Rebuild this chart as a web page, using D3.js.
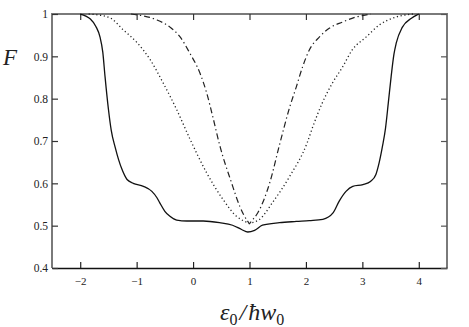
<!DOCTYPE html>
<html>
<head>
<meta charset="utf-8">
<script src="https://cdn.jsdelivr.net/npm/d3@7"></script>
<style>
  html, body { margin: 0; padding: 0; background: #fff; }
  svg { display: block; }
  svg text { font-family: 'Liberation Serif', 'Tinos', 'DejaVu Serif', serif !important; fill: #222; }
</style>
</head>
<body>
<svg id="chart" width="469" height="327"></svg>
<script>
// ---- data ----
const xTicks = [-2, -1, 0, 1, 2, 3, 4];
const xTickLabels = ["\u22122", "\u22121", "0", "1", "2", "3", "4"];
const yTicks = [0.4, 0.5, 0.6, 0.7, 0.8, 0.9, 1.0];
const yTickLabels = ["0.4", "0.5", "0.6", "0.7", "0.8", "0.9", "1"];

const solidX = [-2.0, -1.9, -1.82, -1.72, -1.65, -1.6, -1.56, -1.5, -1.45, -1.38, -1.32, -1.26, -1.17, -1.06, -0.88, -0.73, -0.64, -0.59, -0.5, -0.41, -0.29, -0.11, 0.18, 0.47, 0.7, 0.86, 0.97, 1.09, 1.23, 1.53, 1.83, 2.06, 2.3, 2.48, 2.59, 2.71, 2.83, 3.01, 3.15, 3.24, 3.3, 3.36, 3.41, 3.46, 3.51, 3.56, 3.6, 3.71, 3.87, 3.97, 4.0];
const solidF = [1.0, 0.995, 0.988, 0.97, 0.946, 0.91, 0.852, 0.775, 0.725, 0.685, 0.656, 0.633, 0.609, 0.6, 0.593, 0.581, 0.566, 0.554, 0.534, 0.522, 0.513, 0.511, 0.511, 0.507, 0.501, 0.491, 0.485, 0.489, 0.501, 0.507, 0.51, 0.512, 0.515, 0.53, 0.558, 0.581, 0.593, 0.597, 0.605, 0.621, 0.65, 0.69, 0.73, 0.79, 0.852, 0.905, 0.931, 0.969, 0.99, 0.998, 1.0];

const dotX = [-1.85, -1.7, -1.47, -1.24, -0.99, -0.76, -0.53, -0.29, -0.06, 0.24, 0.53, 0.77, 0.95, 1.0, 1.05, 1.18, 1.41, 1.71, 2.02, 2.12, 2.29, 2.47, 2.65, 2.82, 3.07, 3.3, 3.6, 3.78, 3.9];
const dotF = [1.0, 0.998, 0.991, 0.963, 0.932, 0.892, 0.837, 0.774, 0.706, 0.625, 0.562, 0.522, 0.508, 0.505, 0.507, 0.515, 0.555, 0.616, 0.695, 0.733, 0.79, 0.837, 0.875, 0.915, 0.946, 0.974, 0.993, 0.998, 1.0];

const dashDotX = [-1.1, -0.99, -0.64, -0.41, -0.23, -0.06, 0.12, 0.24, 0.35, 0.47, 0.68, 0.83, 0.97, 1.0, 1.03, 1.15, 1.36, 1.53, 1.71, 1.83, 1.94, 2.06, 2.24, 2.42, 2.65, 2.89, 3.07, 3.15];
const dashDotF = [1.0, 0.998, 0.986, 0.969, 0.946, 0.908, 0.861, 0.814, 0.757, 0.691, 0.602, 0.545, 0.51, 0.505, 0.51, 0.531, 0.602, 0.69, 0.779, 0.828, 0.875, 0.915, 0.946, 0.967, 0.981, 0.993, 0.998, 1.0];

// ---- layout ----
const svg = d3.select("#chart");
const L = 52, R = 447, T = 14, B = 268;
const SERIF = "'Liberation Serif', 'Tinos', 'DejaVu Serif', serif";

const x = d3.scaleLinear().domain([-2.5, 4.5]).range([L, R]);
const y = d3.scaleLinear().domain([0.4, 1.0]).range([B, T]);

const line = d3.line().x(d => x(d[0])).y(d => y(d[1])).curve(d3.curveMonotoneX);

function pts(xs, fs) { return xs.map((v, i) => [v, fs[i]]); }

// frame
svg.append("line").attr("x1", L).attr("x2", R).attr("y1", T).attr("y2", T)
  .attr("stroke", "#7a7a7a").attr("stroke-width", 2);
svg.append("line").attr("x1", L).attr("x2", L).attr("y1", T - 1).attr("y2", B)
  .attr("stroke", "#7a7a7a").attr("stroke-width", 2);
svg.append("line").attr("x1", R).attr("x2", R).attr("y1", T - 1).attr("y2", B)
  .attr("stroke", "#7a7a7a").attr("stroke-width", 2);

// bottom axis (ticks pointing inward)
const xAxis = d3.axisBottom(x).tickValues(xTicks)
  .tickFormat((d, i) => xTickLabels[i]).tickSizeInner(-6).tickSizeOuter(0).tickPadding(9);
const gx = svg.append("g").attr("transform", `translate(0,${B})`).call(xAxis)
  .attr("font-family", SERIF);
gx.select(".domain").attr("stroke", "#111").attr("stroke-width", 1.6);
gx.selectAll(".tick line").attr("stroke", "#222").attr("stroke-width", 1.2);
gx.selectAll(".tick text").attr("font-size", "11px").style("font-family", SERIF).attr("fill", "#111");

// top ticks
const gxt = svg.append("g").attr("transform", `translate(0,${T})`)
  .call(d3.axisTop(x).tickValues(xTicks).tickSizeInner(-6).tickSizeOuter(0).tickFormat(""));
gxt.select(".domain").remove();
gxt.selectAll(".tick line").attr("stroke", "#333").attr("stroke-width", 1.2);

// left axis
const yAxis = d3.axisLeft(y).tickValues(yTicks)
  .tickFormat((d, i) => yTickLabels[i]).tickSizeInner(-6).tickSizeOuter(0).tickPadding(4);
const gy = svg.append("g").attr("transform", `translate(${L},0)`).call(yAxis)
  .attr("font-family", SERIF);
gy.select(".domain").remove();
gy.selectAll(".tick line").attr("stroke", "#333").attr("stroke-width", 1.2);
gy.selectAll(".tick text").attr("font-size", "11.5px").style("font-family", SERIF).attr("fill", "#111");

// right ticks
const gyr = svg.append("g").attr("transform", `translate(${R},0)`)
  .call(d3.axisRight(y).tickValues(yTicks).tickSizeInner(-6).tickSizeOuter(0).tickFormat(""));
gyr.select(".domain").remove();
gyr.selectAll(".tick line").attr("stroke", "#555").attr("stroke-width", 1.2);

// curves
svg.append("path").datum(pts(dotX, dotF)).attr("d", line)
  .attr("fill", "none").attr("stroke", "#222").attr("stroke-width", 1.3)
  .attr("stroke-dasharray", "1.2,2.6");
svg.append("path").datum(pts(dashDotX, dashDotF)).attr("d", line)
  .attr("fill", "none").attr("stroke", "#222").attr("stroke-width", 1.2)
  .attr("stroke-dasharray", "6,3,1.3,3");
svg.append("path").datum(pts(solidX, solidF)).attr("d", line)
  .attr("fill", "none").attr("stroke", "#111").attr("stroke-width", 1.3);

// axis titles
svg.append("text").attr("x", 3).attr("y", 65).style("font-family", SERIF)
  .attr("font-size", "23px").attr("font-style", "italic").text("F");

const xl = svg.append("text").attr("x", 220).attr("y", 320).style("font-family", SERIF)
  .attr("font-size", "24px").attr("font-style", "italic");
xl.append("tspan").text("\u03b5");
xl.append("tspan").attr("font-size", "16px").attr("font-style", "normal").attr("dy", 5).text("0");
xl.append("tspan").attr("dy", -5).attr("dx", 2).text("/");
xl.append("tspan").attr("dx", 2).text("\u0127w");
xl.append("tspan").attr("font-size", "16px").attr("font-style", "normal").attr("dy", 5).text("0");
</script>
</body>
</html>
